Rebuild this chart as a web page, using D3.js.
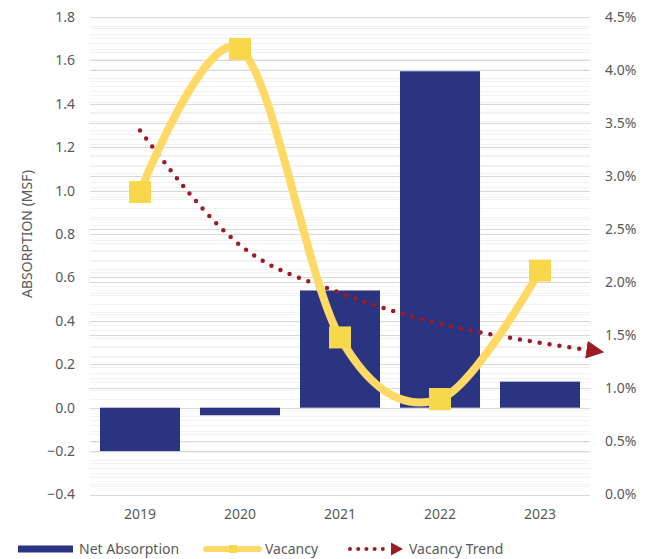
<!DOCTYPE html>
<html lang="en">
<head>
<meta charset="UTF-8"/>
<script src="https://d3js.org/d3.v7.min.js"></script>
<style>
    body { margin: 0; background: #fff; }
    text { font-family: "Noto Sans", sans-serif; fill: #595959; }
</style>
</head>
<body>
<div id="chart"></div>
<script>
    // data
    const years = ["2019", "2020", "2021", "2022", "2023"];
    const absorption = [-0.20, -0.035, 0.54, 1.55, 0.12];
    const vacancy = [2.85, 4.20, 1.48, 0.90, 2.11];
    // trend line, position in periods (1 = 2019) and value in %
    const trendPos = [1, 2, 3, 4, 5, 5.5];
    const trendVal = [3.43, 2.35, 1.90, 1.61, 1.43, 1.36];
    const leftTicks = [-0.4, -0.2, 0, 0.2, 0.4, 0.6, 0.8, 1.0, 1.2, 1.4, 1.6, 1.8];
    const rightTicks = [0, 0.5, 1, 1.5, 2, 2.5, 3, 3.5, 4, 4.5];

    const W = 655, H = 559;
    const plot = {left: 90, right: 590, top: 17, bottom: 494.5};

    const svg = d3.select("#chart").append("svg")
        .attr("width", W).attr("height", H);

    const x = d3.scaleBand().domain(years).range([plot.left, plot.right]).paddingInner(0.2).paddingOuter(0.1);
    const xPos = d3.scaleLinear().domain([1, 5]).range([x("2019") + x.bandwidth() / 2, x("2023") + x.bandwidth() / 2]);
    const y = d3.scaleLinear().domain([-0.4, 1.8]).range([plot.bottom, plot.top]);
    const y2 = d3.scaleLinear().domain([0, 4.5]).range([plot.bottom, plot.top]);

    // grid: minor lines first, then major
    const grid = svg.append("g");
    const minorL = d3.range(-0.4, 1.8001, 0.04);
    const minorR = d3.range(0, 4.5001, 0.1);
    grid.selectAll(".ml").data(minorL).join("line")
        .attr("x1", plot.left).attr("x2", plot.right)
        .attr("y1", d => Math.round(y(d)) + 0.5).attr("y2", d => Math.round(y(d)) + 0.5)
        .attr("stroke", "#f2f2f2");
    grid.selectAll(".mr").data(minorR).join("line")
        .attr("x1", plot.left).attr("x2", plot.right)
        .attr("y1", d => Math.round(y2(d)) + 0.5).attr("y2", d => Math.round(y2(d)) + 0.5)
        .attr("stroke", "#f2f2f2");
    grid.selectAll(".Ml").data(leftTicks).join("line")
        .attr("x1", plot.left).attr("x2", plot.right)
        .attr("y1", d => Math.round(y(d)) + 0.5).attr("y2", d => Math.round(y(d)) + 0.5)
        .attr("stroke", "#d9d9d9").attr("stroke-width", 1.2);
    grid.selectAll(".Mr").data(rightTicks).join("line")
        .attr("x1", plot.left).attr("x2", plot.right)
        .attr("y1", d => Math.round(y2(d)) + 0.5).attr("y2", d => Math.round(y2(d)) + 0.5)
        .attr("stroke", "#d9d9d9").attr("stroke-width", 1.2);

    // axes (labels only)
    const axL = svg.append("g").attr("transform", "translate(" + (plot.left - 15) + ",0)")
        .call(d3.axisLeft(y).tickValues(leftTicks).tickSize(0).tickFormat(d3.format(".1f")));
    const axR = svg.append("g").attr("transform", "translate(" + (plot.right + 15) + ",0)")
        .call(d3.axisRight(y2).tickValues(rightTicks).tickSize(0).tickFormat(d => d.toFixed(1) + "%"));
    const axB = svg.append("g").attr("transform", "translate(0," + (plot.bottom + 15) + ")")
        .call(d3.axisBottom(x).tickSize(0));
    [axL, axR, axB].forEach(a => {
        a.select(".domain").remove();
        a.selectAll("text").style("font-size", "14px").style("fill", "#595959")
            .style("font-family", "'Noto Sans', sans-serif");
    });
    axL.selectAll("text").attr("x", 0);
    axR.selectAll("text").attr("x", 0);
    axB.selectAll("text").attr("y", 0).attr("dy", "0.71em");

    svg.append("text")
        .attr("transform", "translate(27,234) rotate(-90)")
        .attr("text-anchor", "middle").attr("dy", "0.35em")
        .style("font-size", "14px").text("ABSORPTION (MSF)");

    // bars
    const barColor = "#2b3481";
    svg.selectAll(".bar").data(absorption).join("rect")
        .attr("x", (d, i) => x(years[i]))
        .attr("width", x.bandwidth())
        .attr("y", d => y(Math.max(0, d)))
        .attr("height", d => Math.abs(y(d) - y(0)))
        .attr("fill", barColor);

    // trend
    const trendColor = "#9b1c24";
    svg.append("defs").append("marker")
        .attr("id", "arrow").attr("viewBox", "0 0 10 10")
        .attr("refX", 2).attr("refY", 5)
        .attr("markerWidth", 4).attr("markerHeight", 4)
        .attr("markerUnits", "strokeWidth").attr("orient", "auto")
        .append("path").attr("d", "M0,0 L10,5 L0,10 Z").attr("fill", trendColor);

    const trendData = trendPos.map((p, i) => [p, trendVal[i]]);
    svg.append("path").datum(trendData)
        .attr("fill", "none").attr("stroke", trendColor)
        .attr("stroke-width", 4.5).attr("stroke-linecap", "round")
        .attr("stroke-dasharray", "0 10")
        .attr("marker-end", "url(#arrow)")
        .attr("d", d3.line().x(d => xPos(d[0])).y(d => y2(d[1])).curve(d3.curveMonotoneX));

    // vacancy
    const lineColor = "#ffd966", markColor = "#f7d84a";
    svg.append("path").datum(vacancy)
        .attr("fill", "none").attr("stroke", lineColor).attr("stroke-width", 8)
        .attr("stroke-linecap", "round")
        .attr("d", d3.line().x((d, i) => x(years[i]) + x.bandwidth() / 2).y(d => y2(d))
            .curve(d3.curveCardinal.tension(0)));
    svg.selectAll(".mk").data(vacancy).join("rect")
        .attr("x", (d, i) => x(years[i]) + x.bandwidth() / 2 - 11)
        .attr("y", d => y2(d) - 11)
        .attr("width", 22).attr("height", 22)
        .attr("fill", markColor);

    // legend
    const leg = svg.append("g");
    const ly = 549;
    leg.append("rect").attr("x", 18).attr("y", ly - 3.5).attr("width", 55).attr("height", 7).attr("fill", barColor);
    leg.append("text").attr("x", 79).attr("y", ly).attr("dy", "0.35em").style("font-size", "14px").text("Net Absorption");
    leg.append("line").attr("x1", 206).attr("x2", 259).attr("y1", ly).attr("y2", ly)
        .attr("stroke", lineColor).attr("stroke-width", 6).attr("stroke-linecap", "round");
    leg.append("rect").attr("x", 229).attr("y", ly - 4).attr("width", 8).attr("height", 8).attr("fill", markColor);
    leg.append("text").attr("x", 265).attr("y", ly).attr("dy", "0.35em").style("font-size", "14px").text("Vacancy");
    leg.append("line").attr("x1", 350).attr("x2", 390).attr("y1", ly).attr("y2", ly)
        .attr("stroke", trendColor).attr("stroke-width", 4).attr("stroke-linecap", "round")
        .attr("stroke-dasharray", "0 8.2");
    leg.append("path").attr("d", "M391," + (ly - 6.5) + " L403," + ly + " L391," + (ly + 6.5) + " Z").attr("fill", trendColor);
    leg.append("text").attr("x", 409).attr("y", ly).attr("dy", "0.35em").style("font-size", "14px").text("Vacancy Trend");
</script>
</body>
</html>
